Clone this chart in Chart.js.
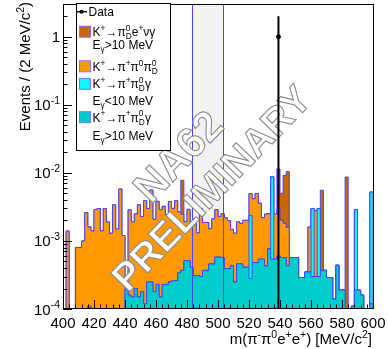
<!DOCTYPE html>
<html>
<head>
<meta charset="utf-8">
<script src="https://cdn.jsdelivr.net/npm/chart.js@4.4.0/dist/chart.umd.min.js"></script>
<style>
  html, body { margin: 0; padding: 0; background: #fff; }
</style>
</head>
<body>
<canvas id="chart" width="388" height="349"></canvas>
<script>
// binning: 100 bins of 2 MeV/c2 from 400 to 600
var binLow = 400;
var binWidth = 2;
var binHigh = 600;
var binEdges = [];
for (var k = 0; binLow + k * binWidth < binHigh; k++) binEdges.push(binLow + k * binWidth);

var xTicks = [400, 420, 440, 460, 480, 500, 520, 540, 560, 580, 600];
var yTicks = [1e-4, 1e-3, 1e-2, 1e-1, 1];

// K+ -> pi+ pi0_D gamma, E_gamma > 10 MeV (bottom of the stack)
var tealVals = [
    0, 0, 0, 0, 0, 0, 0, 0, 1.1e-4, 0,
    0, 0, 0, 0, 0, 0, 0, 0, 0, 0,
    2e-4, 1.6e-4, 1.5e-4, 2e-4, 1.5e-4, 1.8e-4, 1.2e-4, 2.5e-4, 2.5e-4, 1.8e-4,
    2.3e-4, 1.5e-4, 2.3e-4, 2.3e-4, 2.5e-4, 2.6e-4, 2.6e-4, 3.4e-4, 3.7e-4, 5.1e-4,
    5.1e-4, 4.1e-4, 3.1e-4, 3.1e-4, 3.0e-4, 3.7e-4, 3.7e-4, 4.6e-4, 4.6e-4, 5.8e-4,
    5.8e-4, 5.7e-4, 3.9e-4, 3.9e-4, 4.3e-4, 2.5e-4, 4.6e-4, 4.6e-4, 4.1e-4, 4.1e-4,
    2.8e-4, 4.8e-4, 4.8e-4, 5.4e-4, 5.4e-4, 4.3e-4, 7.7e-4, 5.4e-4, 5.4e-4, 6.1e-4,
    5.7e-4, 5.7e-4, 4.3e-4, 5.7e-4, 5.7e-4, 5.7e-4, 2.9e-4, 2.9e-4, 3.5e-4, 3.5e-4,
    3e-4, 3e-4, 3e-4, 3.7e-4, 3.7e-4, 2.9e-4, 2.9e-4, 1.4e-4, 4.4e-4, 1.9e-4,
    1.9e-4, 0, 0, 1.1e-4, 1.9e-4, 1.9e-4, 1.6e-4, 0, 0, 1.2e-4
];
// K+ -> pi+ pi0_D gamma, E_gamma < 10 MeV
var cyanVals = [
    0, 0, 0, 0, 0, 0, 0, 0, 0, 0,
    0, 0, 0, 0, 0, 0, 0, 0, 0, 0,
    0, 0, 0, 0, 0, 0, 0, 0, 0, 0,
    0, 0, 0, 0, 0, 0, 0, 0, 0, 0,
    0, 0, 0, 0, 0, 0, 0, 0, 0, 0,
    0, 0, 0, 0, 0, 0, 0, 0, 0, 0,
    2.1e-3, 0, 0, 0, 0, 0, 0, 8.2e-3, 0, 0,
    0, 0, 0, 0, 0, 0, 0, 0, 0, 0,
    2.7e-3, 0, 2.7e-3, 0, 0, 0, 0, 0, 0, 0,
    0, 0, 0, 0, 2.7e-3, 0, 0, 0, 0, 5.1e-3
];
// K+ -> pi+ pi0 pi0_D
var orangeVals = [
    0, 1.4e-3, 0, 0, 8e-4, 8e-4, 1.0e-3, 2.6e-3, 1.5e-3, 1.4e-3,
    2.9e-3, 3.0e-3, 1.4e-3, 3.0e-3, 1.9e-3, 1.3e-3, 3.4e-3, 1.5e-3, 5.8e-3, 1.2e-3,
    0, 2.7e-3, 1.75e-3, 2.3e-3, 3.25e-3, 2.1e-3, 3.8e-3, 2.75e-3, 5.35e-3, 1.9e-3,
    3.6e-3, 2.75e-3, 3.0e-3, 2.2e-3, 3.55e-3, 2.75e-3, 3.65e-3, 2.35e-3, 2.1e-3, 1.4e-3,
    2.4e-3, 1.5e-3, 1.8e-3, 1.0e-3, 2.7e-3, 1.5e-3, 1.5e-3, 1.05e-3, 1.65e-3, 2.3e-3,
    1.7e-3, 1.95e-3, 1.8e-3, 1.6e-3, 1.05e-3, 1.05e-3, 1.45e-3, 1.35e-3, 1.6e-3, 1.6e-3,
    2.6e-3, 3.7e-3, 4.5e-3, 3.05e-3, 1.65e-3, 2.05e-3, 1.75e-3, 0, 1.95e-3, 2.4e-3,
    1.45e-3, 1.25e-3, 1.15e-3, 0, 0, 0, 0, 0, 0, 1.25e-3,
    0, 2.5e-3, 0, 0, 0, 0, 0, 0, 0, 0,
    0, 0, 0, 0, 0, 0, 0, 0, 0, 0
];
// K+ -> pi0_D e+ nu gamma, E_gamma > 10 MeV (top of the stack)
var brownVals = [
    0, 0, 0, 0, 0, 0, 0, 0, 0, 0,
    0, 0, 0, 0, 0, 0, 0, 0, 0, 0,
    0, 0, 0, 0, 0, 0, 0, 0, 0, 0,
    0, 0, 0, 0, 0, 0, 0, 0, 5.3e-3, 0,
    0, 0, 0, 0, 0, 0, 0, 0, 0, 0,
    0, 0, 0, 0, 0, 0, 0, 0, 0, 0,
    0, 0, 0, 0, 0, 0, 0, 0, 0, 8.4e-3,
    3.0e-3, 7.4e-3, 8.9e-3, 0, 0, 0, 0, 0, 0, 0,
    0, 0, 0, 5.2e-3, 0, 0, 0, 0, 0, 0,
    0, 8.7e-3, 0, 0, 0, 0, 0, 0, 0, 0
];

// data: one event
var dataX = [539];
var dataY = [1];
var dataErr = [1];

// signal region band
var bandLow = 483;
var bandHigh = 503;

var yMin = 1e-4, yMax = 2.93;
var offScale = 1e-7; // empty bins go below the axis on a log scale

var fontFamily = '"Liberation Sans", Arial, Helvetica, sans-serif';
var lineBlue = 'rgb(70,70,255)';

// stack levels, bottom to top
var lvlTeal = tealVals.slice();
var lvlCyan = lvlTeal.map(function (v, i) { return v + cyanVals[i]; });
var lvlOrange = lvlCyan.map(function (v, i) { return v + orangeVals[i]; });
var lvlBrown = lvlOrange.map(function (v, i) { return v + brownVals[i]; });

function stepPoints(levels) {
    var pts = [{ x: binLow, y: offScale }];
    for (var i = 0; i < levels.length; i++) {
        pts.push({ x: binEdges[i], y: levels[i] > 0 ? levels[i] : offScale });
    }
    pts.push({ x: binHigh, y: levels[levels.length - 1] > 0 ? levels[levels.length - 1] : offScale });
    pts.push({ x: binHigh, y: offScale });
    return pts;
}

function histSet(levels, color) {
    return {
        data: stepPoints(levels),
        stepped: true,
        fill: 'start',
        backgroundColor: color,
        borderColor: lineBlue,
        borderWidth: 1,
        pointRadius: 0,
        tension: 0
    };
}

function setFont(ctx, size, bold) {
    ctx.font = (bold ? 'bold ' : '') + size + 'px ' + fontFamily;
}

function richWidth(ctx, tokens, size) {
    var w = 0;
    tokens.forEach(function (tk) {
        setFont(ctx, size);
        w += ctx.measureText(tk.t).width;
        setFont(ctx, size * 0.7);
        w += Math.max(tk.sup ? ctx.measureText(tk.sup).width : 0, tk.sub ? ctx.measureText(tk.sub).width : 0);
    });
    return w;
}

function drawRich(ctx, tokens, x, y, size, align) {
    var w = richWidth(ctx, tokens, size);
    var cx = align === 'right' ? x - w : (align === 'center' ? x - w / 2 : x);
    ctx.textAlign = 'left';
    ctx.textBaseline = 'alphabetic';
    tokens.forEach(function (tk) {
        setFont(ctx, size);
        ctx.fillText(tk.t, cx, y);
        cx += ctx.measureText(tk.t).width;
        setFont(ctx, size * 0.7);
        var sw = 0;
        if (tk.sup) {
            ctx.fillText(tk.sup, cx, y - size * 0.42);
            sw = ctx.measureText(tk.sup).width;
        }
        if (tk.sub) {
            ctx.fillText(tk.sub, cx, y + size * 0.26);
            sw = Math.max(sw, ctx.measureText(tk.sub).width);
        }
        cx += sw;
    });
}

var legendRows = [
    { kind: 'data', text: [{ t: 'Data' }] },
    { kind: 'box', color: '#cc6600', text: [{ t: 'K', sup: '+' }, { t: '\u2192\u03c0', sup: '0', sub: 'D' }, { t: 'e', sup: '+' }, { t: '\u03bd\u03b3' }] },
    { kind: 'none', text: [{ t: 'E', sub: '\u03b3' }, { t: '>10 MeV' }] },
    { kind: 'box', color: '#ff9900', text: [{ t: 'K', sup: '+' }, { t: '\u2192\u03c0', sup: '+' }, { t: '\u03c0', sup: '0' }, { t: '\u03c0', sup: '0', sub: 'D' }] },
    { kind: 'box', color: '#00ffff', text: [{ t: 'K', sup: '+' }, { t: '\u2192\u03c0', sup: '+' }, { t: '\u03c0', sup: '0', sub: 'D' }, { t: '\u03b3' }] },
    { kind: 'none', text: [{ t: 'E', sub: '\u03b3' }, { t: '<10 MeV' }] },
    { kind: 'box', color: '#00cccc', text: [{ t: 'K', sup: '+' }, { t: '\u2192\u03c0', sup: '+' }, { t: '\u03c0', sup: '0', sub: 'D' }, { t: '\u03b3' }] },
    { kind: 'none', text: [{ t: 'E', sub: '\u03b3' }, { t: '>10 MeV' }] }
];
var legendRowY = [11.7, 31.7, 44.5, 66.3, 83.8, 100.5, 117.2, 136];

var rootStyle = {
    id: 'rootStyle',
    beforeDatasetsDraw: function (chart) {
        var ctx = chart.ctx, a = chart.chartArea, xs = chart.scales.x;
        ctx.save();
        ctx.fillStyle = '#f2f2f2';
        var x0 = xs.getPixelForValue(bandLow), x1 = xs.getPixelForValue(bandHigh);
        ctx.fillRect(x0, a.top, x1 - x0, a.bottom - a.top);
        ctx.restore();
    },
    afterDatasetDraw: function (chart, args) {
        if (args.index !== 2) return;
        var ctx = chart.ctx, a = chart.chartArea, xs = chart.scales.x;
        ctx.save();
        // band edges
        ctx.strokeStyle = lineBlue;
        ctx.lineWidth = 1;
        [bandLow, bandHigh].forEach(function (v) {
            var px = Math.round(xs.getPixelForValue(v)) + 0.5;
            ctx.beginPath();
            ctx.moveTo(px, a.top);
            ctx.lineTo(px, a.bottom);
            ctx.stroke();
        });
        // watermark
        ctx.translate(213, 190);
        ctx.rotate(-46 * Math.PI / 180);
        ctx.textAlign = 'center';
        ctx.textBaseline = 'middle';
        ctx.fillStyle = '#ffffff';
        ctx.strokeStyle = '#8a8a8a';
        ctx.lineWidth = 1.1;
        setFont(ctx, 42, true);
        ctx.fillText('NA62', 0, -46);
        ctx.strokeText('NA62', 0, -46);
        setFont(ctx, 39, true);
        ctx.fillText('PRELIMINARY', 0, 0);
        ctx.strokeText('PRELIMINARY', 0, 0);
        ctx.restore();
    },
    afterDraw: function (chart) {
        var ctx = chart.ctx, a = chart.chartArea;
        var xs = chart.scales.x, ys = chart.scales.y;
        ctx.save();
        ctx.strokeStyle = '#000';
        ctx.fillStyle = '#000';
        ctx.lineWidth = 1;

        // x ticks, inward
        for (var v = binLow; v <= binHigh; v += 4) {
            var px = Math.round(xs.getPixelForValue(v)) + 0.5;
            var len = (v % 20 === 0) ? 9 : 4.5;
            ctx.beginPath();
            ctx.moveTo(px, a.bottom);
            ctx.lineTo(px, a.bottom - len);
            ctx.stroke();
        }
        // y ticks, inward
        for (var d = -4; d <= 0; d++) {
            for (var m = 1; m <= 9; m++) {
                var val = m * Math.pow(10, d);
                if (val > yMax) break;
                var py = Math.round(ys.getPixelForValue(val)) + 0.5;
                ctx.beginPath();
                ctx.moveTo(a.left, py);
                ctx.lineTo(a.left + (m === 1 ? 9 : 4.5), py);
                ctx.stroke();
            }
        }
        // frame
        ctx.strokeRect(Math.round(a.left) + 0.5, Math.round(a.top) - 0.5, Math.round(a.right - a.left), Math.round(a.bottom - a.top));

        // tick labels
        xTicks.forEach(function (t) {
            setFont(ctx, 15);
            ctx.textAlign = 'center';
            ctx.textBaseline = 'alphabetic';
            ctx.fillText(String(t), xs.getPixelForValue(t), 328);
        });
        yTicks.forEach(function (t) {
            var e = Math.round(Math.log10(t));
            var tokens = e === 0 ? [{ t: '1' }] : [{ t: '10', sup: '-' + (-e) }];
            drawRich(ctx, tokens, a.left - 3, ys.getPixelForValue(t) + 5.5, 15, 'right');
        });

        // axis titles
        drawRich(ctx, [{ t: 'm(\u03c0', sup: '-' }, { t: '\u03c0', sup: '0' }, { t: 'e', sup: '+' }, { t: 'e', sup: '+' }, { t: ') [MeV/c', sup: '2' }, { t: ']' }],
            372, 344, 15, 'right');
        ctx.save();
        ctx.translate(30, 2);
        ctx.rotate(-Math.PI / 2);
        drawRich(ctx, [{ t: 'Events / (2 MeV/c', sup: '2' }, { t: ')' }], 0, 0, 15, 'right');
        ctx.restore();

        // legend
        ctx.fillStyle = '#fff';
        ctx.fillRect(76.5, 3.5, 94, 147);
        ctx.strokeStyle = '#000';
        ctx.strokeRect(76.5, 3.5, 94, 147);
        legendRows.forEach(function (row, i) {
            var cy = legendRowY[i];
            if (row.kind === 'data') {
                ctx.strokeStyle = '#000';
                ctx.lineWidth = 1.5;
                ctx.beginPath();
                ctx.moveTo(77, cy);
                ctx.lineTo(87, cy);
                ctx.stroke();
                ctx.fillStyle = '#000';
                ctx.beginPath();
                ctx.arc(81.5, cy, 2, 0, Math.PI * 2);
                ctx.fill();
            } else if (row.kind === 'box') {
                ctx.fillStyle = row.color;
                ctx.fillRect(79.5, cy - 5.5, 11, 11);
                ctx.strokeStyle = 'rgb(120,120,255)';
                ctx.lineWidth = 1;
                ctx.strokeRect(79.5, cy - 5.5, 11, 11);
            }
            ctx.fillStyle = '#000';
            drawRich(ctx, row.text, row.kind === 'data' ? 88.5 : 92.5, cy + 4.3, 12, 'left');
        });
        ctx.restore();
    }
};

var datasets = [
    { // data point
        data: dataX.map(function (x, i) { return { x: x, y: dataY[i] }; }),
        showLine: false,
        pointRadius: 2,
        pointBackgroundColor: '#000',
        pointBorderColor: '#000',
        borderColor: '#000'
    },
    { // error bar
        data: [
            { x: dataX[0], y: dataY[0] - dataErr[0] > 0 ? dataY[0] - dataErr[0] : offScale },
            { x: dataX[0], y: dataY[0] + dataErr[0] }
        ],
        borderColor: '#000',
        borderWidth: 2,
        pointRadius: 0,
        fill: false
    },
    histSet(lvlTeal, '#00cccc'),
    histSet(lvlCyan, '#00ffff'),
    histSet(lvlOrange, '#ff9900'),
    histSet(lvlBrown, '#cc6600')
];

new Chart(document.getElementById('chart'), {
    type: 'line',
    data: { datasets: datasets },
    options: {
        responsive: false,
        animation: false,
        devicePixelRatio: 1,
        layout: { padding: { left: 63, right: 15, top: 0, bottom: 40 } },
        plugins: {
            legend: { display: false },
            tooltip: { enabled: false }
        },
        scales: {
            x: { type: 'linear', min: binLow, max: binHigh, display: false },
            y: { type: 'logarithmic', min: yMin, max: yMax, display: false }
        }
    },
    plugins: [rootStyle]
});
</script>
</body>
</html>
